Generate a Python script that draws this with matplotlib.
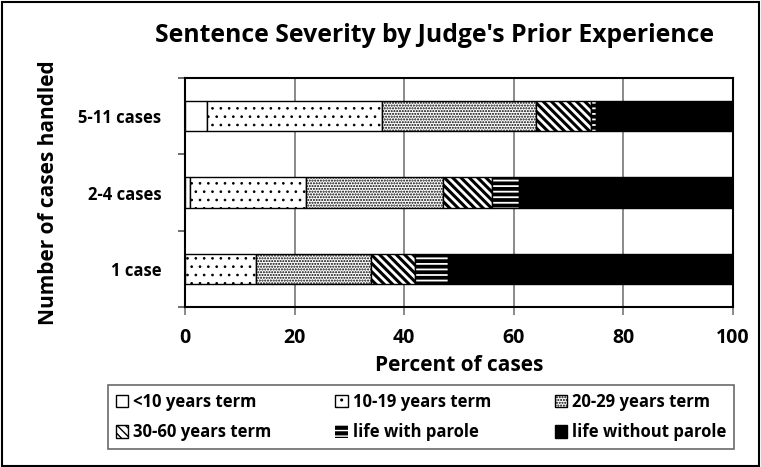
import matplotlib
matplotlib.use('Agg')
import matplotlib.pyplot as plt
from matplotlib.patches import Rectangle
import numpy as np

# data
groups = ['1 case', '2-4 cases', '5-11 cases']
series_names = ['<10 years term', '10-19 years term', '20-29 years term',
                '30-60 years term', 'life with parole', 'life without parole']
under_10 = [0, 1, 4]
y10_19 = [13, 21, 32]
y20_29 = [21, 25, 28]
y30_60 = [8, 9, 10]
life_parole = [6, 5, 1]
life_no_parole = [52, 39, 25]
x_ticks = [0, 20, 40, 60, 80, 100]

plt.rcParams['font.family'] = ['Open Sans', 'DejaVu Sans']
plt.rcParams['font.weight'] = 'bold'

fig = plt.figure(figsize=(7.61, 4.67), dpi=100)
fig.patches.append(Rectangle((0.002, 0.003), 0.995, 0.993, transform=fig.transFigure,
                             fill=False, edgecolor='black', lw=1.5))

ax = fig.add_axes([185 / 761, 1 - 307 / 467, 548 / 761, 229 / 467])

ypos = np.arange(len(groups))
h = 0.4
left = np.zeros(len(groups))
# (face, hatch, hatch linewidth)
styles = [
    ('white', None, 1.0),
    ('white', '..', 0.7),
    ('white', '......', 1.0),
    ('white', '\\\\\\\\', 2.2),
    ('black', '---', 1.3),
    ('black', None, 1.0),
]
data = [under_10, y10_19, y20_29, y30_60, life_parole, life_no_parole]
handles = []
for vals, (face, hatch, hlw), name in zip(data, styles, series_names):
    vals = np.array(vals, dtype=float)
    with plt.rc_context({'hatch.linewidth': hlw}):
        if face == 'black' and hatch:
            bars = ax.barh(ypos, vals, h, left=left, color='black', edgecolor='white',
                           hatch=hatch, lw=0, zorder=3, label=name)
            ax.barh(ypos, vals, h, left=left, fill=False, edgecolor='black', lw=1, zorder=4)
        else:
            bars = ax.barh(ypos, vals, h, left=left, color=face, edgecolor='black',
                           hatch=hatch, lw=1, zorder=3, label=name)
    for p in bars:
        if hasattr(p, 'set_hatch_linewidth'):
            p.set_hatch_linewidth(hlw)
    handles.append(bars)
    left += vals

ax.set_xlim(0, 100)
ax.set_ylim(-0.5, 2.5)
ax.set_xticks(x_ticks)
ax.tick_params(axis='x', length=6, width=1.2, color='#777777', labelsize=14, pad=9)
ax.set_yticks([-0.5, 0.5, 1.5, 2.5])
ax.set_yticklabels([])
ax.set_yticks(ypos, minor=True)
ax.set_yticklabels(groups, minor=True)
ax.tick_params(axis='y', which='major', length=5, width=1.2, color='#555555')
ax.tick_params(axis='y', which='minor', length=0, labelsize=12, pad=17)
for x in x_ticks[1:-1]:
    ax.axvline(x, color='#777777', lw=1.2, zorder=1)
for sp in ax.spines.values():
    sp.set_linewidth(1.5)
    sp.set_color('black')

ax.set_xlabel('Percent of cases', fontsize=15, fontweight='bold', labelpad=5)
ax.set_ylabel('Number of cases handled', fontsize=15, fontweight='bold', labelpad=14)
fig.text(435 / 761, 1 - 35 / 467, "Sentence Severity by Judge's Prior Experience",
         ha='center', va='center', fontsize=17.8, fontweight='bold')

# legend filled row by row like the reference
order = [0, 3, 1, 4, 2, 5]
leg = fig.legend(handles=[handles[i] for i in order], labels=[series_names[i] for i in order],
                 ncol=3, loc='upper left',
                 bbox_to_anchor=(108 / 761, 1 - 390 / 467, 626 / 761, 0.01),
                 mode='expand', fontsize=12, frameon=True, fancybox=False,
                 handlelength=0.75, handleheight=0.75, handletextpad=0.3,
                 borderpad=0.45, labelspacing=0.75, borderaxespad=0)
leg.get_frame().set_edgecolor('#444444')
leg.get_frame().set_linewidth(1.2)

fig.savefig('out.png', dpi=100)
